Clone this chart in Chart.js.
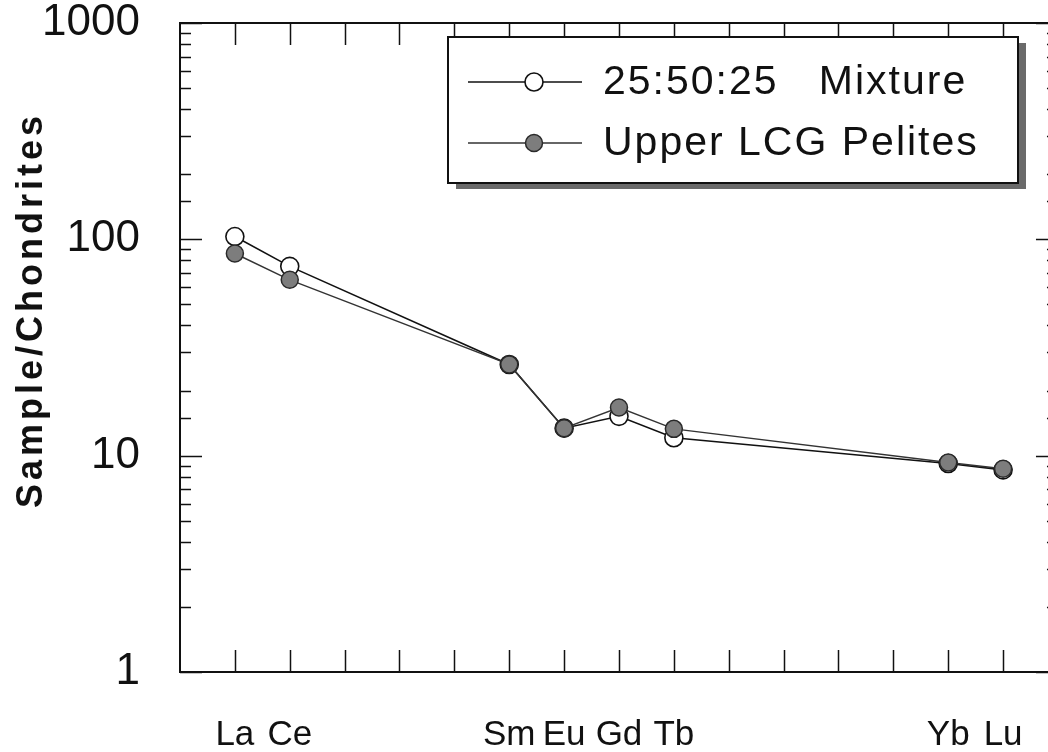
<!DOCTYPE html>
<html>
<head>
<meta charset="utf-8">
<script src="https://cdn.jsdelivr.net/npm/chart.js@4.4.1/dist/chart.umd.min.js"></script>
<style>
  body { margin: 0; background: #fff; }
  #wrap { width: 1048px; height: 752px; }
</style>
</head>
<body>
<div id="wrap"><canvas id="ree-chart" width="1048" height="752"></canvas></div>
<script>
// REE, in order of atomic number (one slot per element on the x axis)
var elements = ['La', 'Ce', 'Pr', 'Nd', 'Pm', 'Sm', 'Eu', 'Gd', 'Tb', 'Dy', 'Ho', 'Er', 'Tm', 'Yb', 'Lu'];
// only the analysed elements get a label
var labelledElements = ['La', 'Ce', 'Sm', 'Eu', 'Gd', 'Tb', 'Yb', 'Lu'];

// chondrite-normalised values, null = not analysed
var mixtureValues = [103, 75, null, null, null, 26.4, 13.4, 15.2, 12.1, null, null, null, null, 9.2, 8.6];
var pelitesValues = [86, 65, null, null, null, 26.4, 13.4, 16.7, 13.3, null, null, null, null, 9.3, 8.7];

var seriesNames = ['25:50:25   Mixture', 'Upper LCG Pelites'];
var yTickLabels = [1, 10, 100, 1000];
var yTitle = 'Sample/Chondrites';

var textFont = '"Liberation Sans", Arial, sans-serif';

function toPoints(values) {
  var pts = [];
  for (var i = 0; i < values.length; i++) {
    if (values[i] !== null) pts.push({ x: i, y: values[i] });
  }
  return pts;
}

function isDecade(v) {
  var l = Math.log10(v);
  return Math.abs(l - Math.round(l)) < 1e-9;
}

// plot frame, inward tick marks on all four sides, rotated y title
// (the right edge of the frame sits just past the canvas, only its ticks show)
var framePlugin = {
  id: 'frame',
  beforeDatasetsDraw: function (chart) {
    var ctx = chart.ctx;
    var a = chart.chartArea;
    var xs = chart.scales.x;
    var ys = chart.scales.y;
    var rightEdge = xs.getPixelForValue(15);
    ctx.save();
    ctx.strokeStyle = '#111';
    ctx.lineWidth = 2;
    ctx.beginPath();
    ctx.moveTo(chart.width, a.top);
    ctx.lineTo(a.left, a.top);
    ctx.lineTo(a.left, a.bottom);
    ctx.lineTo(chart.width, a.bottom);
    ctx.stroke();

    ctx.lineWidth = 1.5;
    ctx.beginPath();
    xs.ticks.forEach(function (t) {
      var px = Math.round(xs.getPixelForValue(t.value)) + 0.5;
      ctx.moveTo(px, a.bottom);
      ctx.lineTo(px, a.bottom - 22);
      ctx.moveTo(px, a.top);
      ctx.lineTo(px, a.top + 22);
    });
    ys.ticks.forEach(function (t) {
      var len = isDecade(t.value) ? 22 : 11;
      var py = Math.round(ys.getPixelForValue(t.value)) + 0.5;
      ctx.moveTo(a.left, py);
      ctx.lineTo(a.left + len, py);
      ctx.moveTo(rightEdge, py);
      ctx.lineTo(rightEdge - len, py);
    });
    ctx.stroke();

    ctx.translate(42, 310);
    ctx.rotate(-Math.PI / 2);
    ctx.fillStyle = '#111';
    ctx.font = 'bold 36px ' + textFont;
    ctx.letterSpacing = '4px';
    ctx.textAlign = 'center';
    ctx.textBaseline = 'alphabetic';
    ctx.fillText(yTitle, 0, 0);
    ctx.restore();
  }
};

// legend box with a drop shadow, sitting inside the plot at the top right
var legendBox = { left: 448, top: 37, right: 1018, bottom: 183 };

var boxLegendPlugin = {
  id: 'boxLegend',
  afterDatasetsDraw: function (chart) {
    var ctx = chart.ctx;
    var b = legendBox;
    var w = b.right - b.left;
    var h = b.bottom - b.top;
    ctx.save();
    ctx.fillStyle = '#6a6a6a';
    ctx.fillRect(b.left + 8, b.top + 6, w, h);
    ctx.fillStyle = '#fff';
    ctx.fillRect(b.left, b.top, w, h);
    ctx.strokeStyle = '#111';
    ctx.lineWidth = 2;
    ctx.strokeRect(b.left, b.top, w, h);

    var rowsY = [82, 143];
    chart.data.datasets.forEach(function (ds, i) {
      var y = rowsY[i];
      ctx.strokeStyle = ds.borderColor;
      ctx.lineWidth = ds.borderWidth;
      ctx.beginPath();
      ctx.moveTo(b.left + 20, y);
      ctx.lineTo(b.left + 134, y);
      ctx.stroke();
      ctx.beginPath();
      ctx.arc(b.left + 86, y, ds.pointRadius, 0, Math.PI * 2);
      ctx.fillStyle = ds.pointBackgroundColor;
      ctx.fill();
      ctx.lineWidth = ds.pointBorderWidth;
      ctx.strokeStyle = ds.pointBorderColor;
      ctx.stroke();

      ctx.fillStyle = '#111';
      ctx.font = '41px ' + textFont;
      ctx.letterSpacing = '2px';
      ctx.textAlign = 'left';
      ctx.textBaseline = 'middle';
      ctx.fillText(ds.label, b.left + 155, y + 1);
    });
    ctx.restore();
  }
};

var ctx = document.getElementById('ree-chart').getContext('2d');

var reeChart = new Chart(ctx, {
  type: 'line',
  data: {
    datasets: [
      {
        label: seriesNames[0],
        data: toPoints(mixtureValues),
        borderColor: '#111',
        borderWidth: 1.6,
        pointRadius: 9,
        pointBackgroundColor: '#fff',
        pointBorderColor: '#111',
        pointBorderWidth: 1.6,
        order: 1
      },
      {
        label: seriesNames[1],
        data: toPoints(pelitesValues),
        borderColor: '#333',
        borderWidth: 1.4,
        pointRadius: 8.5,
        pointBackgroundColor: '#7d7d7d',
        pointBorderColor: '#2a2a2a',
        pointBorderWidth: 1.5,
        order: 0
      }
    ]
  },
  options: {
    responsive: false,
    animation: false,
    layout: { autoPadding: false, padding: { top: 23, right: 1, left: 0, bottom: 0 } },
    plugins: {
      legend: { display: false },
      tooltip: { enabled: false }
    },
    scales: {
      x: {
        type: 'linear',
        min: -1,
        max: 14.8,
        grid: { display: false, drawTicks: false },
        border: { display: false },
        afterBuildTicks: function (scale) {
          scale.ticks = elements.map(function (e, i) { return { value: i }; });
        },
        afterFit: function (scale) {
          scale.height = 80;
          scale.paddingLeft = 0;
          scale.paddingRight = 0;
        },
        ticks: {
          autoSkip: false,
          maxRotation: 0,
          padding: 42,
          color: '#111',
          font: { family: textFont, size: 35 },
          callback: function (v) {
            var el = elements[v];
            return labelledElements.indexOf(el) !== -1 ? el : '';
          }
        }
      },
      y: {
        type: 'logarithmic',
        min: 1,
        max: 1000,
        grid: { display: false, drawTicks: false },
        border: { display: false },
        afterFit: function (scale) {
          scale.width = 180;
          scale.paddingTop = 0;
          scale.paddingBottom = 0;
        },
        ticks: {
          autoSkip: false,
          padding: 40,
          color: '#111',
          font: { family: textFont, size: 44 },
          callback: function (v) {
            return yTickLabels.indexOf(v) !== -1 ? String(v) : '';
          }
        }
      }
    }
  },
  plugins: [framePlugin, boxLegendPlugin]
});
</script>
</body>
</html>
